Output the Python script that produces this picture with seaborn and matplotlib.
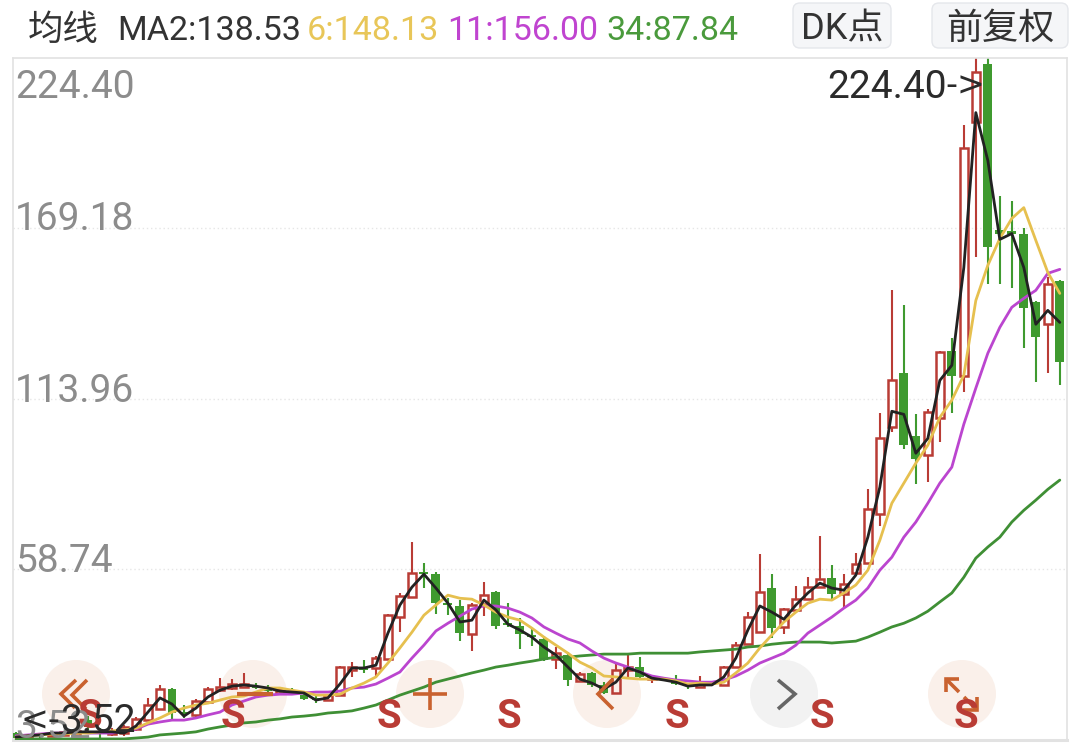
import matplotlib
matplotlib.use("Agg")
import numpy as np
import pandas as pd
import matplotlib.pyplot as plt
from matplotlib.patches import Circle, FancyBboxPatch
import seaborn as sns

#candles, oldest first
opens = [5.6,4.3,5.3,4.7,5.0,5.0,9.9,6.0,5.3,5.6,6.9,9.8,13.4,19.9,12.4,11.5,15.7,19.5,20.2,20.5,20.8,20.2,18.6,19.5,17.9,17.0,16.3,17.9,26.0,26.7,
         26.7,29.6,43.2,49.7,57.8,57.1,47.7,46.8,37.7,47.4,51.3,41.2,40.3,37.4,36.1,29.6,30.9,22.5,25.1,21.2,18.6,26.0,27.0,23.1,23.4,22.8,21.5,20.5,21.8,21.2,
         27.0,34.4,38.3,52.6,40.0,45.5,49.0,52.9,55.8,50.6,57.4,60.7,76.5,104.7,122.2,101.8,95.7,107.6,129.3,121.2,203.5,222.6,168.5,168.2,167.2,145.2,138.1,152.0]
closes = [4.0,5.0,4.7,5.3,5.9,6.3,7.6,5.6,6.3,7.6,10.2,14.7,19.9,12.1,11.8,16.0,19.9,20.5,21.5,21.5,20.2,19.2,19.9,18.9,16.6,16.3,17.9,27.0,27.0,26.0,
          29.9,43.8,50.0,57.4,57.1,47.7,47.1,38.0,47.1,50.3,40.3,40.6,37.7,36.7,29.3,31.5,22.8,24.7,21.2,18.6,26.0,27.0,23.8,23.8,22.8,21.5,20.8,21.8,21.2,27.0,
          34.1,43.2,51.3,39.6,45.8,49.0,52.9,55.5,50.6,53.9,60.3,78.2,101.1,119.9,98.9,94.4,109.6,129.0,121.2,195.1,220.0,163.0,167.2,167.5,143.3,133.9,151.3,125.8]
highs = [5.9,5.3,5.6,5.9,6.3,6.6,11.1,7.3,7.3,8.2,10.9,17.0,21.2,20.2,14.7,16.6,20.5,23.4,23.1,25.1,21.8,21.2,20.2,20.2,18.6,17.9,18.2,27.3,28.6,29.3,
         30.6,44.2,51.0,67.5,60.7,57.8,49.3,48.7,47.7,54.5,51.6,47.7,42.9,39.6,37.0,33.5,31.9,25.4,25.4,22.1,28.6,30.9,30.2,24.1,23.8,24.4,21.8,24.1,22.1,27.3,
         35.1,44.8,63.6,57.1,46.1,53.2,56.1,69.4,60.0,57.1,63.9,84.6,109.2,149.1,144.5,108.9,110.5,129.3,133.5,202.8,224.4,224.4,179.8,177.9,169.2,145.8,153.3,152.3]
lows = [3.7,4.0,4.0,4.3,4.7,4.7,6.6,4.0,4.7,4.7,6.3,9.5,13.1,9.8,10.5,10.5,15.3,18.9,19.5,20.2,19.9,18.6,18.2,18.6,16.3,15.3,16.0,17.6,23.8,25.1,
        23.8,29.3,38.3,49.3,52.6,44.2,43.8,35.4,32.2,43.5,39.3,40.0,32.8,33.8,29.0,26.4,20.8,22.1,20.5,18.2,18.2,23.8,23.4,21.8,22.5,21.2,19.9,20.2,20.8,20.8,
        26.7,34.1,38.0,36.4,37.7,45.1,48.7,52.6,49.0,46.4,57.1,60.3,72.7,103.1,97.6,86.3,86.9,99.9,109.2,116.1,159.8,151.0,151.3,150.0,130.3,119.3,122.2,118.3]

ma2 = [4.3,4.7,5.0,5.6,5.6,6.0,6.0,6.0,6.0,5.6,7.9,12.4,17.0,15.0,11.1,13.7,17.3,19.5,20.8,21.2,20.8,20.2,19.2,18.9,18.6,16.3,17.0,21.5,26.7,26.7,
       27.6,38.0,47.1,52.9,57.1,52.6,47.7,41.6,42.2,48.7,45.5,40.9,39.0,36.7,33.5,30.9,27.0,23.1,21.8,19.9,22.1,26.7,25.4,23.4,22.8,22.1,20.8,21.2,21.2,23.8,
       29.9,39.0,46.8,44.8,42.5,47.1,51.0,54.2,52.6,51.9,56.8,69.1,85.3,109.9,108.9,96.3,101.1,119.9,124.8,156.5,206.7,191.2,165.6,167.5,156.5,138.1,142.6,138.7]
ma6 = [4.3,4.7,5.0,5.3,5.3,5.6,5.6,6.0,6.3,6.6,7.2,8.9,10.5,12.4,13.7,14.7,15.3,16.3,17.3,17.6,18.9,20.2,20.2,19.5,18.9,17.9,17.9,18.2,20.2,21.8,
       23.8,28.3,33.2,38.3,43.8,47.1,50.3,49.3,49.0,47.1,44.8,43.2,42.2,39.6,36.7,34.1,31.5,28.6,26.7,24.1,23.8,23.4,23.1,23.1,23.1,22.5,21.5,21.8,21.5,22.1,
       25.1,28.3,33.2,37.4,41.6,44.8,47.7,49.0,48.7,51.0,53.6,58.4,68.1,80.1,86.6,93.1,98.9,107.9,113.5,121.6,145.8,157.2,165.9,172.4,175.9,165.3,154.9,148.1]
ma11 = [4.7,5.0,5.3,5.6,5.6,6.0,5.6,5.6,5.6,6.3,6.9,8.5,9.2,9.8,9.8,10.5,11.5,12.4,14.7,16.0,17.3,17.9,18.2,18.2,18.6,18.9,18.9,19.2,20.2,20.5,
        21.5,23.4,25.4,29.9,34.1,38.7,41.2,43.5,45.8,46.8,46.8,46.1,44.8,42.9,40.0,38.0,36.1,34.8,32.2,29.9,28.3,27.0,25.4,24.1,23.4,22.8,22.5,22.1,22.1,22.8,
        24.1,26.0,28.3,29.9,31.5,34.1,38.0,40.6,43.2,46.1,48.7,52.6,58.4,62.6,69.1,74.0,80.1,86.6,91.8,105.7,117.4,128.7,137.1,143.6,146.5,149.1,154.6,155.9]
ma34 = [3.7,3.7,3.7,3.7,3.7,3.7,3.7,3.7,3.7,3.7,4.0,4.3,5.0,5.3,5.6,6.0,6.9,7.6,8.2,8.9,9.2,9.8,10.2,10.8,11.1,11.5,12.1,12.4,12.8,13.7,
        14.7,16.3,17.9,19.2,20.5,22.1,23.1,24.1,25.1,26.0,27.0,27.6,28.3,28.9,29.6,30.2,30.2,30.6,30.9,31.2,31.2,31.2,31.5,31.5,31.5,31.5,31.5,31.9,32.2,32.5,
        32.8,33.5,33.8,34.4,34.8,35.1,35.1,35.1,34.8,35.1,35.4,36.7,38.3,40.0,41.2,42.9,45.1,48.1,51.0,56.1,62.3,65.9,69.1,74.0,77.8,81.1,84.6,87.6]

price_ticks = [224.40, 169.18, 113.96, 58.74, 3.52]
price_labels = ["224.40", "169.18", "113.96", "58.74", "3.52"]

RED = "#b93c35"
GREEN = "#3f9a2f"
ORANGE = "#c9622f"

sns.set_theme(style="white")
plt.rcParams["font.family"] = ["Roboto", "Noto Sans CJK SC", "DejaVu Sans"]

W, H = 1080, 745
fig = plt.figure(figsize=(W / 100, H / 100), dpi=100, facecolor="white")

#round controls sit under the candles
bg = fig.add_axes([0, 0, 1, 1], zorder=0)
bg.set_xlim(0, W)
bg.set_ylim(H, 0)
bg.axis("off")
for cx, col in [(76, "#faf0ea"), (253, "#faf0ea"), (430, "#faf0ea"), (607, "#faf0ea"), (784, "#f2f2f2"), (962, "#faf0ea")]:
    bg.add_patch(Circle((cx, 694), 34, facecolor=col, edgecolor="none"))

ax = fig.add_axes([13 / W, 1 - 739.5 / H, (1067 - 13) / W, (739.5 - 58) / H], zorder=1)
ax.patch.set_alpha(0)

df = pd.DataFrame({"day": np.arange(len(closes)), "open": opens, "close": closes, "high": highs, "low": lows,
                   "ma2": ma2, "ma6": ma6, "ma11": ma11, "ma34": ma34})
up = df[df["close"] >= df["open"]]
down = df[df["close"] < df["open"]]

#red bodies are hollow, so their wicks stop at the body
ax.vlines(up["day"], up["low"], up["open"], color=RED, lw=1.5, zorder=2)
ax.vlines(up["day"], up["close"], up["high"], color=RED, lw=1.5, zorder=2)
ax.vlines(down["day"], down["low"], down["high"], color=GREEN, lw=1.5, zorder=2)
ax.bar(up["day"], up["close"] - up["open"], bottom=up["open"], width=0.68,
       facecolor="none", edgecolor=RED, lw=1.8, zorder=3)
ax.bar(down["day"], down["open"] - down["close"], bottom=down["close"], width=0.74,
       color=GREEN, lw=0, zorder=3)

#moving averages
sns.lineplot(data=df, x="day", y="ma34", color="#3f8f35", lw=2, errorbar=None, ax=ax, zorder=4)
sns.lineplot(data=df, x="day", y="ma11", color="#bb45cf", lw=2, errorbar=None, ax=ax, zorder=5)
sns.lineplot(data=df, x="day", y="ma6", color="#e6c04f", lw=2, errorbar=None, ax=ax, zorder=6)
sns.lineplot(data=df, x="day", y="ma2", color="#222222", lw=2, errorbar=None, ax=ax, zorder=7)

ax.set_xlim(-0.25, 87.6)
ax.set_ylim(price_ticks[-1], price_ticks[0])
ax.set_xticks([])
ax.set_yticks(price_ticks[1:-1])
ax.set_yticklabels([])
ax.set_xlabel("")
ax.set_ylabel("")
ax.tick_params(length=0)
ax.grid(axis="y", color="#e6e6e6", lw=1, ls=(0, (1, 2)))
ax.set_axisbelow(True)
for s in ax.spines.values():
    s.set_color("#e2e2e2")
    s.set_linewidth(1.2)
ax.spines["bottom"].set_linewidth(2.2)

#page overlay in pixels for header, buttons and icons
ov = fig.add_axes([0, 0, 1, 1], zorder=10)
ov.set_xlim(0, W)
ov.set_ylim(H, 0)
ov.axis("off")
ov.patch.set_alpha(0)

def stroke(xs, ys, col=ORANGE, lw=2.6):
    ov.plot(xs, ys, color=col, lw=lw, solid_capstyle="butt", solid_joinstyle="miter", zorder=2)

stroke([76, 61, 75], [680, 694, 708])
stroke([87, 72, 86], [680, 695, 709])
stroke([237, 273], [694, 694], lw=3)
stroke([413, 447], [694, 694])
stroke([430, 430], [678, 710])
stroke([613, 598, 613], [679, 694, 709])
stroke([778, 795, 778], [680, 694, 709], col="#666666")
stroke([946, 946, 959], [692, 679, 679])
stroke([946, 959], [679, 692])
stroke([977, 977, 963], [697, 710, 710])
stroke([977, 964], [710, 697])

for sx in [90, 233, 389, 509, 677, 822, 966]:
    ov.text(sx, 717, "S", color=RED, fontsize=29, fontweight="bold", ha="center", va="center", zorder=3)

for lab, ly in zip(price_labels, [87, 219, 391, 561, 727]):
    ov.text(15, ly, lab, color="#8c8c8c", fontsize=28, ha="left", va="center", zorder=4)

ov.text(827, 87, "224.40", color="#2b2b2b", fontsize=28, ha="left", va="center", zorder=5)
ov.text(945, 86, "->", color="#2b2b2b", fontsize=24, family="DejaVu Sans", ha="left", va="center", zorder=5)
ov.text(21, 721, "<-", color="#2b2b2b", fontsize=24, family="DejaVu Sans", ha="left", va="center", zorder=5)
ov.text(60, 721, "3.52", color="#2b2b2b", fontsize=28, ha="left", va="center", zorder=5)

#header
ov.text(28, 30, "均线", color="#333333", fontsize=25.5, ha="left", va="center")
for tx, lab, col in [(117, "MA2:138.53", "#333333"), (307, "6:148.13", "#e8c658"),
                     (447, "11:156.00", "#c044d0"), (606, "34:87.84", "#4a9a3c")]:
    ov.text(tx, 31, lab, color=col, fontsize=24.5, ha="left", va="center")

for bx, bw, lab in [(793, 98, "DK点"), (932, 136, "前复权")]:
    ov.add_patch(FancyBboxPatch((bx, 3), bw, 45, boxstyle="round,pad=0,rounding_size=7",
                                facecolor="#f5f6f8", edgecolor="#e5e7eb", lw=1))
    ov.text(bx + bw / 2, 29, lab, color="#333333", fontsize=26, ha="center", va="center")

fig.savefig("out.png", dpi=100)
